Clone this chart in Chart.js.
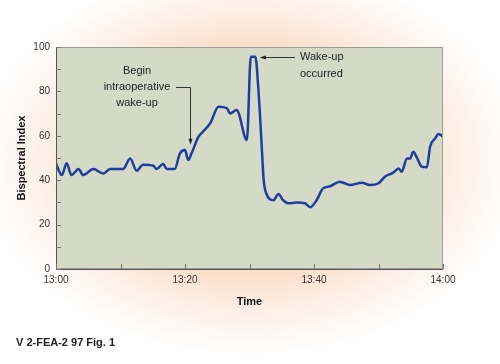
<!DOCTYPE html>
<html>
<head>
<meta charset="utf-8">
<script src="https://cdn.jsdelivr.net/npm/chart.js@4"></script>
<style>
  html, body { margin: 0; padding: 0; }
  body {
    width: 500px; height: 364px; position: relative; overflow: hidden;
    background: radial-gradient(ellipse 270px 195px at 250px 160px, #f7b890 0%, #fad2b6 45%, #fdeee3 75%, #ffffff 100%);
    font-family: "Liberation Sans", Arial, sans-serif;
  }
  #wrap { position: absolute; left: 0; top: 0; width: 500px; height: 364px; }
  #note { position: absolute; left: 16px; top: 336px; font-size: 11px; font-weight: bold; color: #222; }
</style>
</head>
<body>
<div id="wrap"><canvas id="bisChart" width="500" height="364"></canvas></div>
<div id="note">V 2-FEA-2 97 Fig. 1</div>
<script>
// minutes after 13:00
const minutes = [0, 0.9, 1.65, 2.4, 3.5, 4.2, 5.8, 7.3, 8.4, 10.4, 11.5, 12.5, 13.5, 15.1, 15.6, 16.6, 17.2, 18.4,
  19.2, 20, 20.5, 21, 22.1, 22.8, 23.9, 25.2, 26.5, 27, 28, 29.6, 30.2, 30.9, 31.4, 31.9, 32.2, 32.6,
  33.7, 34.5, 35.2, 36, 37.3, 38.6, 39.4, 40.4, 41.4, 42.5, 44, 45.6, 47.4, 48.7, 50, 51, 52.3, 53.1,
  53.6, 54.4, 54.9, 55.4, 55.9, 56.7, 57.5, 58, 58.8, 59.3, 60];
const bis = [47.5, 42.3, 47.6, 42.3, 45, 42.3, 45, 43, 45, 45, 49.8, 44.3, 47, 46.5, 45, 47.3, 45, 45,
  52, 53.6, 49.1, 52, 59.6, 61.9, 65.6, 73.1, 72.4, 70, 71.6, 58.1, 95.6, 95.6, 80, 55, 40, 34,
  31, 33.8, 31, 29.6, 29.9, 29.6, 27.8, 31, 36.3, 37.3, 39.3, 37.8, 38.9, 37.8, 38.6, 41.6, 43.4, 45.3,
  43.8, 49.8, 49.8, 52.8, 50.5, 46.1, 45.8, 55.1, 58.9, 60.8, 59.6];
const timeLabels = ['13:00', '13:20', '13:40', '14:00'];
const yLabels = [0, 20, 40, 60, 80, 100];

const points = minutes.map((m, i) => ({ x: m, y: bis[i] }));

const plotFrame = {
  id: 'plotFrame',
  beforeDatasetsDraw(chart) {
    const a = chart.chartArea, c = chart.ctx;
    c.save();
    c.fillStyle = '#d4dac5';
    c.fillRect(a.left, a.top, a.right - a.left, a.bottom - a.top);
    c.restore();
  },
  afterDatasetsDraw(chart) {
    const a = chart.chartArea, c = chart.ctx;
    const xs = chart.scales.x, ys = chart.scales.y;
    c.save();
    c.strokeStyle = '#9a9e94';
    c.lineWidth = 1;
    c.strokeRect(a.left + 0.5, a.top + 0.5, a.right - a.left - 1, a.bottom - a.top - 1);
    c.strokeStyle = '#555';
    c.beginPath();
    c.moveTo(a.left + 0.5, a.top); c.lineTo(a.left + 0.5, a.bottom + 0.5); c.lineTo(a.right, a.bottom + 0.5);
    c.stroke();
    c.strokeStyle = '#777';
    ys.ticks.forEach(t => {
      const py = Math.round(ys.getPixelForValue(t.value)) + 0.5;
      c.beginPath(); c.moveTo(a.left, py); c.lineTo(a.left + 5, py); c.stroke();
    });
    xs.ticks.forEach(t => {
      const px = Math.round(xs.getPixelForValue(t.value)) + 0.5;
      c.beginPath(); c.moveTo(px, a.bottom); c.lineTo(px, a.bottom - 5); c.stroke();
    });

    // annotations
    c.fillStyle = '#222';
    c.font = '11px "Liberation Sans", Arial, sans-serif';
    c.textBaseline = 'middle';
    c.textAlign = 'center';
    c.fillText('Begin', 137, 71);
    c.fillText('intraoperative', 137, 87);
    c.fillText('wake-up', 137, 103);
    c.strokeStyle = '#333';
    const tip1x = xs.getPixelForValue(20.6), tip1y = ys.getPixelForValue(56);
    c.beginPath();
    c.moveTo(176, 87.5); c.lineTo(190.5, 87.5); c.lineTo(190.5, tip1y - 4);
    c.stroke();
    c.beginPath();
    c.moveTo(190.5, tip1y); c.lineTo(188.5, tip1y - 6); c.lineTo(192.5, tip1y - 6); c.closePath();
    c.fill();

    c.textAlign = 'left';
    c.fillText('Wake-up', 300, 57);
    c.fillText('occurred', 300, 74);
    const tip2x = xs.getPixelForValue(31.6);
    c.beginPath();
    c.moveTo(tip2x + 5, 57.5); c.lineTo(295, 57.5);
    c.stroke();
    c.beginPath();
    c.moveTo(tip2x, 57.5); c.lineTo(tip2x + 6, 55.5); c.lineTo(tip2x + 6, 59.5); c.closePath();
    c.fill();
    c.restore();
  }
};

const ctx = document.getElementById('bisChart').getContext('2d');
const bisChart = new Chart(ctx, {
  type: 'line',
  data: {
    datasets: [{
      data: points,
      borderColor: '#1e3d9e',
      borderWidth: 2.5,
      pointRadius: 0,
      tension: 0.3,
      cubicInterpolationMode: 'monotone',
      fill: false
    }]
  },
  options: {
    responsive: false,
    animation: false,
    layout: { padding: { left: 0, right: 57, top: 47, bottom: 50 } },
    plugins: { legend: { display: false }, tooltip: { enabled: false } },
    scales: {
      x: {
        type: 'linear',
        min: 0, max: 60,
        afterFit: s => { s.height = 45; },
        grid: { display: false, drawTicks: false },
        border: { display: false },
        ticks: {
          stepSize: 10, padding: 5, maxRotation: 0, autoSkip: false,
          color: '#333', font: { family: '"Liberation Sans", Arial', size: 10 },
          callback: v => (v % 20 === 0 ? timeLabels[v / 20] : '')
        },
        title: {
          display: true, text: 'Time', color: '#111',
          font: { family: '"Liberation Sans", Arial', size: 11, weight: 'bold' },
          padding: { top: 0, bottom: 5 }
        }
      },
      y: {
        min: 0, max: 100,
        afterFit: s => { s.width = 56; },
        grid: { display: false, drawTicks: false },
        border: { display: false },
        ticks: {
          stepSize: 10, padding: 6, autoSkip: false,
          color: '#333', font: { family: '"Liberation Sans", Arial', size: 10 },
          callback: v => (yLabels.includes(v) ? String(v) : '')
        },
        title: {
          display: true, text: 'Bispectral Index', color: '#111',
          font: { family: '"Liberation Sans", Arial', size: 11, weight: 'bold' },
          padding: { top: 15, bottom: 0 }
        }
      }
    }
  },
  plugins: [plotFrame]
});
</script>
</body>
</html>
